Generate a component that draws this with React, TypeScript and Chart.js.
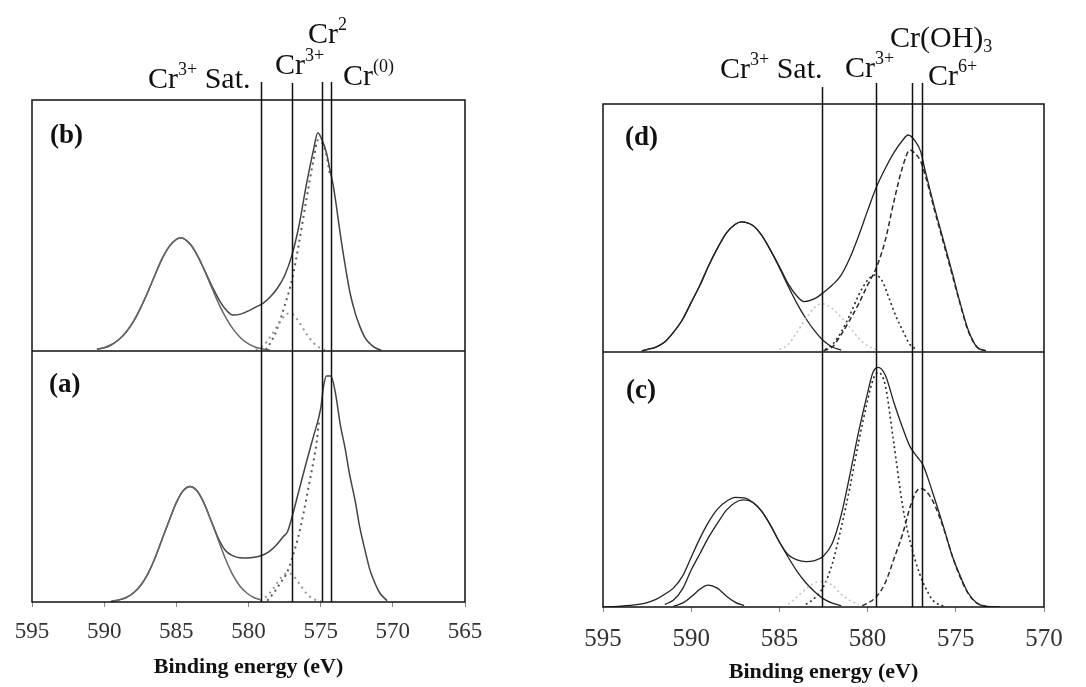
import React, { useEffect, useRef } from 'react';
import { Chart, registerables } from 'chart.js';

Chart.register(...registerables);

type P = [number, number];

// ---------- Left figure: (b) top, (a) bottom ----------
const leftTicks = [595, 590, 585, 580, 575, 570, 565];
const leftRefLines = [579.1, 577.0, 574.9, 574.3];

const bEnvelope: P[] = [
  [590.5, 0.7], [590, 1.3], [589.5, 2.5], [589, 4.5], [588.5, 7.4], [588, 11.5], [587.5, 16.9], [587, 23.2],
  [586.5, 30], [586, 36.6], [585.5, 41.6], [585, 44.5], [584.7, 45], [584.4, 44.5], [584, 42.3], [583.5, 37.6],
  [583, 31.6], [582.5, 25.5], [582, 20], [581.5, 16], [581.2, 14.5], [581, 14.3], [580.5, 14.8], [580, 16],
  [579.5, 17.5], [579, 19], [578.5, 21.5], [578, 25], [577.5, 30], [577, 38], [576.5, 50], [576, 66],
  [575.5, 80], [575.2, 87], [574.9, 84], [574.6, 79], [574.35, 72], [574.1, 65], [573.65, 47], [573.3, 34],
  [572.96, 23], [572.6, 15], [572.3, 10], [571.9, 5], [571.6, 3], [571.2, 1.2], [570.8, 0.3],
];
const bSatellite: P[] = [
  [590.5, 0.7], [590, 1.3], [589.5, 2.5], [589, 4.5], [588.5, 7.4], [588, 11.5], [587.5, 16.9], [587, 23.2],
  [586.5, 30], [586, 36.6], [585.5, 41.6], [585, 44.5], [584.7, 45], [584.4, 44.5], [584, 42.3], [583.5, 37.6],
  [583, 31.4], [582.5, 24.6], [582, 18.1], [581.5, 12.6], [581, 8.2], [580.5, 5], [580, 2.8], [579.5, 1.5],
  [579, 0.8], [578.5, 0.3],
];
const bMainComp: P[] = [
  [578.8, 0.5], [578.4, 4], [578, 9], [577.5, 18], [577, 28], [576.5, 43], [576, 60], [575.5, 76],
  [575.2, 84], [574.9, 83], [574.6, 78], [574.35, 70],
];
const bCr3Comp: P[] = [
  [579.5, 0.5], [579, 2], [578.5, 5.5], [578, 10], [577.5, 14], [577.2, 15], [576.9, 14.5], [576.5, 11.5],
  [576, 7], [575.5, 3.2], [575, 1], [574.7, 0.3],
];

const aEnvelope: P[] = [
  [589.5, 0.3], [589, 0.8], [588.5, 1.7], [588, 3.5], [587.5, 6.4], [587, 10.9], [586.5, 17.2], [586, 24.8],
  [585.5, 32.4], [585, 39.6], [584.5, 44.5], [584.05, 46], [583.6, 44.5], [583.1, 39.6], [582.6, 32.6],
  [582.1, 25.5], [581.6, 20.5], [581.1, 18.5], [580.6, 17.6], [580.1, 17.5], [579.6, 17.8], [579.1, 18.5],
  [578.6, 20], [578.1, 22.5], [577.6, 26], [577.3, 28], [577.1, 31.5], [576.5, 44.5], [576, 55.5],
  [575.5, 66], [575, 77], [574.8, 86], [574.6, 90], [574.3, 90], [574, 84], [573.65, 71], [573.3, 61],
  [573, 51], [572.6, 40], [572.3, 30], [571.9, 20], [571.6, 13], [571.2, 7], [570.9, 3.6], [570.4, 0.5],
];
const aSatellite: P[] = [
  [589.5, 0.3], [589, 0.8], [588.5, 1.7], [588, 3.5], [587.5, 6.4], [587, 10.9], [586.5, 17.2], [586, 24.8],
  [585.5, 32.4], [585, 39.6], [584.5, 44.5], [584.05, 46], [583.6, 44.5], [583.1, 39.6], [582.6, 32.4],
  [582.1, 24.8], [581.6, 17.2], [581.1, 10.9], [580.6, 6.4], [580.1, 3.5], [579.6, 1.7], [579.1, 0.8],
];
const aMainComp: P[] = [
  [578.7, 0.5], [578.2, 4], [577.8, 7.5], [577.35, 11.5], [577, 17], [576.55, 26], [576.2, 35],
  [575.85, 45.5], [575.5, 56], [575.27, 64], [575.1, 73],
];
const aCr3Comp: P[] = [
  [579.2, 0.5], [578.7, 2.5], [578.2, 6], [577.7, 10], [577.3, 11.5], [577, 11], [576.5, 7.5], [576, 3.5],
  [575.5, 1.2], [575, 0.3],
];

// ---------- Right figure: (d) top, (c) bottom ----------
const rightTicks = [595, 590, 585, 580, 575, 570];
const rightRefLines = [582.6, 579.5, 577.5, 576.9];

const dEnvelope: P[] = [
  [592.8, 0.5], [592.5, 1], [592, 2], [591.5, 4], [591, 8], [590.5, 13], [590, 20], [589.5, 27], [589, 35],
  [588.5, 42], [588, 48], [587.5, 51.5], [587.16, 52.5], [586.5, 51], [586, 47], [585.5, 41], [585, 34.5],
  [584.5, 27.5], [584, 22.5], [583.6, 20.3], [583, 21.5], [582.5, 24], [582, 27], [581.5, 31], [581, 38],
  [580.5, 47], [580, 57], [579.5, 66.5], [579, 74], [578.5, 80.5], [578, 85.5], [577.7, 87.5], [577.3, 85],
  [577, 81], [576.7, 72], [576.2, 58], [575.7, 45], [575.2, 32], [574.8, 21], [574.3, 9], [573.8, 2],
  [573.3, 0.5],
];
const dSatellite: P[] = [
  [592.8, 0.5], [592.5, 1], [592, 2], [591.5, 4], [591, 8], [590.5, 13], [590, 20], [589.5, 27], [589, 35],
  [588.5, 42], [588, 48], [587.5, 51.5], [587.16, 52.5], [586.5, 51], [586, 47], [585.5, 41], [585, 34],
  [584.5, 26.5], [584, 19.5], [583.5, 13.5], [583, 8.5], [582.5, 4.5], [582, 2], [581.5, 0.8],
];
const dFaintComp: P[] = [
  [585, 1], [584.5, 3], [584, 8], [583.5, 13.5], [583, 18], [582.6, 19.5], [582, 17.5], [581.5, 14],
  [581, 10], [580.5, 5.5], [580, 2.5], [579.5, 1],
];
const dCr3Comp: P[] = [
  [582.4, 1], [582, 3], [581.5, 8], [581, 15], [580.5, 23], [580, 29], [579.6, 31], [579.2, 29],
  [578.8, 22], [578.4, 14.5], [578, 8.5], [577.6, 3], [577.2, 1],
];
const dHydroxComp: P[] = [
  [582.5, 0.5], [582, 2], [581.5, 7], [581, 13], [580.5, 19.5], [580, 27], [579.5, 34], [579, 45],
  [578.5, 61], [578, 75], [577.6, 81.5], [577.3, 80], [577, 77], [576.7, 70.5], [576.2, 57], [575.7, 44],
  [575.2, 31], [574.8, 20.5], [574.3, 8.5], [573.8, 2], [573.3, 0.5],
];

const cEnvelope: P[] = [
  [595, 0], [594, 0.3], [593, 1], [592.5, 1.7], [592, 3], [591.5, 5], [591, 7.5], [590.5, 12], [590, 19.5],
  [589.5, 27], [589, 33.5], [588.5, 38.5], [588, 41.5], [587.5, 43], [587, 42.8], [586.5, 41], [586, 37.5],
  [585.5, 32], [585, 25.5], [584.5, 20.5], [584, 18.5], [583.5, 17.8], [583, 18.2], [582.5, 20], [582, 25],
  [581.5, 36], [581, 52], [580.5, 69], [580, 84], [579.7, 92], [579.4, 94], [579, 91], [578.5, 80],
  [578, 70], [577.6, 63], [577.2, 59], [576.86, 55.7], [576.3, 44.6], [575.7, 31.5], [575.2, 20],
  [574.8, 13], [574.3, 5.5], [573.8, 1.5], [573.3, 0.3], [572.5, 0],
];
const cSatellite: P[] = [
  [591.5, 1], [591, 2.7], [590.5, 7], [590, 14.5], [589.5, 21], [589, 27.5], [588.5, 33], [588, 38],
  [587.5, 41], [587.06, 42], [586.5, 41], [586, 37.5], [585.5, 32], [585, 25.5], [584.5, 19.5], [584, 14],
  [583.5, 9.5], [583, 6], [582.5, 3.2], [582, 1.5], [581.5, 0.5],
];
const cSmallPeak: P[] = [
  [591, 0.3], [590.5, 1.5], [590, 4], [589.5, 7], [589.05, 8.6], [588.5, 7.3], [588, 4.2], [587.5, 1.8],
  [587, 0.5],
];
const cFaintComp: P[] = [
  [584.5, 1], [584, 4], [583.5, 7], [583, 9.5], [582.6, 10], [582, 8.5], [581.5, 5], [581, 2.5], [580.5, 1],
];
const cCr3Comp: P[] = [
  [583.5, 1], [583, 3.5], [582.5, 8], [582, 17], [581.5, 31], [581, 47], [580.5, 65], [580, 81],
  [579.7, 89], [579.4, 92], [579, 87], [578.55, 66], [578, 39], [577.6, 26], [577.05, 13], [576.6, 6],
  [576.3, 2.6], [575.7, 0.3],
];
const cCr6Comp: P[] = [
  [580.3, 0.5], [580, 1.5], [579.5, 4], [579, 9.5], [578.5, 19], [578, 29], [577.6, 39], [577.3, 44.5],
  [577.05, 46.5], [576.7, 45.5], [576.3, 41.5], [575.7, 31], [575.2, 20], [574.8, 12.5], [574.3, 5.3],
  [573.8, 1.5], [573.3, 0.3],
];

const axisTitle = 'Binding energy (eV)';

type Part = { t: string; mode?: 'sup' | 'sub' };
const satText: Part[] = [{ t: 'Cr' }, { t: '3+', mode: 'sup' }, { t: ' Sat.' }];
const cr3Text: Part[] = [{ t: 'Cr' }, { t: '3+', mode: 'sup' }];
const cr2Text: Part[] = [{ t: 'Cr' }, { t: '2', mode: 'sup' }];
const cr0Text: Part[] = [{ t: 'Cr' }, { t: '(0)', mode: 'sup' }];
const crOHText: Part[] = [{ t: 'Cr(OH)' }, { t: '3', mode: 'sub' }];
const cr6Text: Part[] = [{ t: 'Cr' }, { t: '6+', mode: 'sup' }];

// ---------- styles ----------
const SERIF = '"Liberation Serif", "Times New Roman", serif';
type Style = { color: string; width: number; dash?: number[] };
const leftSolid: Style = { color: '#444', width: 1.5 };
const leftSolidLight: Style = { color: '#666', width: 1.5 };
const leftDot: Style = { color: '#5a5a5a', width: 2, dash: [2, 4] };
const leftDotLight: Style = { color: '#999', width: 2, dash: [2, 4] };
const rightSolid: Style = { color: '#222', width: 1.3 };
const rightDot: Style = { color: '#2a2a2a', width: 1.6, dash: [2, 3] };
const rightDash: Style = { color: '#2a2a2a', width: 1.5, dash: [5, 3] };
const rightFaint: Style = { color: '#c4c4c4', width: 1.6, dash: [2, 3] };

const ds = (data: P[], yAxisID: string, s: Style) => ({
  data: data.map(([x, y]) => ({ x, y })),
  xAxisID: 'x',
  yAxisID,
  borderColor: s.color,
  borderWidth: s.width,
  borderDash: s.dash || [],
  pointRadius: 0,
  fill: false,
  cubicInterpolationMode: 'monotone' as const,
});

function drawRich(ctx: CanvasRenderingContext2D, parts: Part[], x: number, y: number, size: number) {
  let cx = x;
  ctx.textAlign = 'left';
  ctx.textBaseline = 'alphabetic';
  for (const p of parts) {
    const s = p.mode ? Math.round(size * 0.6) : size;
    ctx.font = `${s}px ${SERIF}`;
    const dy = p.mode === 'sup' ? -size * 0.42 : p.mode === 'sub' ? size * 0.18 : 0;
    ctx.fillText(p.t, cx, y + dy);
    cx += ctx.measureText(p.t).width;
  }
}

type PanelCfg = {
  min: number;
  max: number;
  ticks: number[];
  lines: number[];
  lineTops: number[];
  labels: { parts: Part[]; x: number; y: number }[];
  tags: { axis: string; text: string; dx: number; dy: number }[];
  padding: { left: number; right: number; top: number; bottom: number };
  axisHeight: number;
  tickPadding: number;
  tickSize: number;
  titlePadBottom: number;
  topWeight: number;
  bottomWeight: number;
  datasets: any[];
};

function makeChart(canvas: HTMLCanvasElement, cfg: PanelCfg) {
  const decor = {
    id: 'decor',
    afterDatasetsDraw(chart: any) {
      const ctx = chart.ctx as CanvasRenderingContext2D;
      const { left, right, top, bottom } = chart.chartArea;
      const xs = chart.scales.x;
      ctx.save();
      ctx.strokeStyle = '#111';
      ctx.lineWidth = 1.5;
      ctx.setLineDash([]);
      cfg.lines.forEach((ev, i) => {
        const px = Math.round(xs.getPixelForValue(ev)) + 0.5;
        ctx.beginPath();
        ctx.moveTo(px, cfg.lineTops[i]);
        ctx.lineTo(px, bottom);
        ctx.stroke();
      });
      ctx.strokeRect(left, top, right - left, bottom - top);
      const yA = chart.scales.yTop;
      const yB = chart.scales.yBot;
      const div = Math.min(yA.bottom, yB.bottom);
      ctx.beginPath();
      ctx.moveTo(left, div);
      ctx.lineTo(right, div);
      ctx.stroke();
      ctx.fillStyle = '#111';
      cfg.labels.forEach((l) => drawRich(ctx, l.parts, l.x, l.y, 30));
      ctx.font = `bold 27px ${SERIF}`;
      ctx.textAlign = 'left';
      ctx.textBaseline = 'alphabetic';
      cfg.tags.forEach((t) => {
        const sc = chart.scales[t.axis];
        ctx.fillText(t.text, left + t.dx, sc.top + t.dy);
      });
      ctx.restore();
    },
  };

  const yBase = (weight: number, stackWeight: number) => ({
    type: 'linear' as const,
    position: 'left' as const,
    stack: 'panel',
    stackWeight,
    weight,
    min: 0,
    max: 100,
    ticks: { display: false },
    grid: { display: false },
    border: { display: false },
    afterFit: (s: any) => {
      s.width = 0;
    },
  });

  return new Chart(canvas, {
    type: 'line',
    data: { datasets: cfg.datasets },
    plugins: [decor],
    options: {
      responsive: false,
      animation: false,
      devicePixelRatio: 1,
      layout: { padding: cfg.padding },
      plugins: { legend: { display: false }, tooltip: { enabled: false } },
      scales: {
        x: {
          type: 'linear',
          min: cfg.min,
          max: cfg.max,
          reverse: true,
          afterBuildTicks: (s: any) => {
            s.ticks = cfg.ticks.map((v) => ({ value: v }));
          },
          ticks: {
            autoSkip: false,
            maxRotation: 0,
            padding: cfg.tickPadding,
            color: '#333',
            font: { family: SERIF, size: cfg.tickSize },
            callback: (v: any) => String(v),
          },
          grid: { display: true, drawOnChartArea: false, drawTicks: true, tickLength: 5, color: '#888' },
          border: { display: false },
          title: {
            display: true,
            text: axisTitle,
            color: '#111',
            font: { family: SERIF, size: 22, weight: 'bold' },
            padding: { top: 0, bottom: cfg.titlePadBottom },
          },
          afterFit: (s: any) => {
            s.height = cfg.axisHeight;
          },
        },
        yTop: yBase(2, cfg.topWeight),
        yBot: yBase(1, cfg.bottomWeight),
      },
    } as any,
  });
}

const leftCfg: PanelCfg = {
  min: 565,
  max: 595,
  ticks: leftTicks,
  lines: leftRefLines,
  lineTops: [82, 83, 82, 82],
  labels: [
    { parts: satText, x: 148, y: 88 },
    { parts: cr3Text, x: 275, y: 74 },
    { parts: cr2Text, x: 308, y: 43 },
    { parts: cr0Text, x: 343, y: 85 },
  ],
  tags: [
    { axis: 'yTop', text: '(b)', dx: 18, dy: 43 },
    { axis: 'yBot', text: '(a)', dx: 17, dy: 41 },
  ],
  padding: { left: 32, right: 78, top: 100, bottom: 0 },
  axisHeight: 85,
  tickPadding: 11,
  tickSize: 23,
  titlePadBottom: 6,
  topWeight: 1,
  bottomWeight: 1,
  datasets: [
    ds(bCr3Comp, 'yTop', leftDotLight),
    ds(bMainComp, 'yTop', leftDot),
    ds(bSatellite, 'yTop', leftSolidLight),
    ds(bEnvelope, 'yTop', leftSolid),
    ds(aCr3Comp, 'yBot', leftDotLight),
    ds(aMainComp, 'yBot', leftDot),
    ds(aSatellite, 'yBot', leftSolidLight),
    ds(aEnvelope, 'yBot', leftSolid),
  ],
};

const rightCfg: PanelCfg = {
  min: 570,
  max: 595,
  ticks: rightTicks,
  lines: rightRefLines,
  lineTops: [87, 83, 83, 83],
  labels: [
    { parts: satText, x: 177, y: 78 },
    { parts: cr3Text, x: 302, y: 77 },
    { parts: crOHText, x: 347, y: 47 },
    { parts: cr6Text, x: 385, y: 85 },
  ],
  tags: [
    { axis: 'yTop', text: '(d)', dx: 22, dy: 41 },
    { axis: 'yBot', text: '(c)', dx: 23, dy: 46 },
  ],
  padding: { left: 60, right: 42, top: 104, bottom: 0 },
  axisHeight: 80,
  tickPadding: 12,
  tickSize: 25,
  titlePadBottom: 1,
  topWeight: 248,
  bottomWeight: 255,
  datasets: [
    ds(dFaintComp, 'yTop', rightFaint),
    ds(dCr3Comp, 'yTop', rightDot),
    ds(dHydroxComp, 'yTop', rightDash),
    ds(dSatellite, 'yTop', rightSolid),
    ds(dEnvelope, 'yTop', rightSolid),
    ds(cFaintComp, 'yBot', rightFaint),
    ds(cCr3Comp, 'yBot', rightDot),
    ds(cCr6Comp, 'yBot', rightDash),
    ds(cSmallPeak, 'yBot', rightSolid),
    ds(cSatellite, 'yBot', rightSolid),
    ds(cEnvelope, 'yBot', rightSolid),
  ],
};

function Panel({ cfg, left }: { cfg: PanelCfg; left: number }) {
  const ref = useRef<HTMLCanvasElement | null>(null);
  useEffect(() => {
    if (!ref.current) return;
    const chart = makeChart(ref.current, cfg);
    return () => chart.destroy();
  }, [cfg]);
  return (
    <div style={{ position: 'absolute', left, top: 0, width: 543, height: 687 }}>
      <canvas ref={ref} width={543} height={687} style={{ width: 543, height: 687, display: 'block' }} />
    </div>
  );
}

export default function App() {
  return (
    <div style={{ position: 'absolute', left: 0, top: 0, width: 1086, height: 687, background: '#fff', overflow: 'hidden' }}>
      <Panel cfg={leftCfg} left={0} />
      <Panel cfg={rightCfg} left={543} />
    </div>
  );
}
